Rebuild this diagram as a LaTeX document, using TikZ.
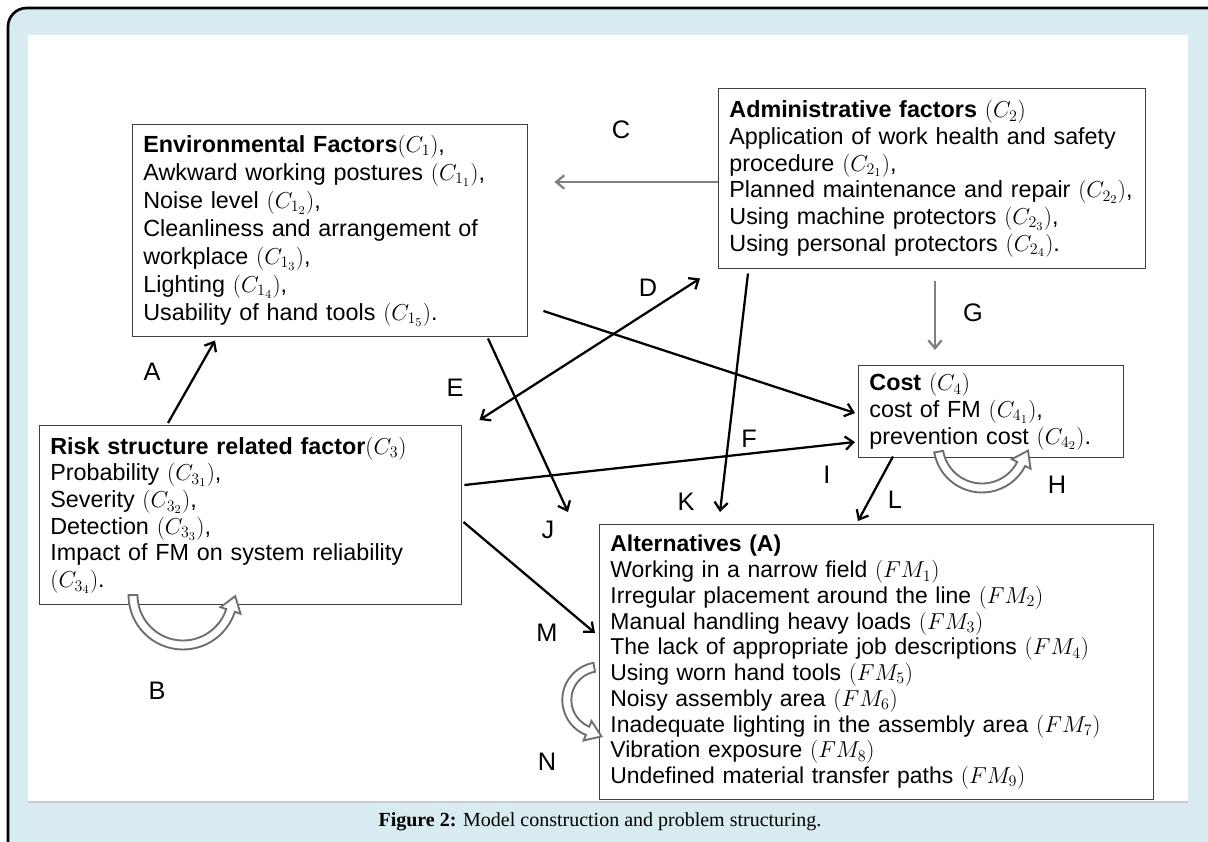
\documentclass[tikz,border=0pt]{standalone}
\usepackage{fontspec}
\setmainfont{Liberation Sans}
\newfontfamily\capfont{Liberation Serif}
\usetikzlibrary{arrows.meta,calc}
\definecolor{frameblue}{HTML}{D8EBF0}
\definecolor{boxline}{HTML}{404040}
\definecolor{arrgray}{HTML}{808080}
\definecolor{bendgray}{HTML}{6E6E6E}
\definecolor{sepgray}{HTML}{CCCCCC}
\newcommand\hollowbend[5]{%
  \pgfmathsetmacro\hbOut{#3+4.5}%
  \pgfmathsetmacro\hbIn{#3-4.5}%
  \pgfmathsetmacro\hbOutH{#3+10.5}%
  \pgfmathsetmacro\hbInH{#3-10.5}%
  \pgfmathsetmacro\hbTx{#3*cos(#5)+15*sin(#5)}%
  \pgfmathsetmacro\hbTy{#3*sin(#5)-15*cos(#5)}%
  \draw[bendarrow,shift={(#1,#2)}] (#4:\hbOut) arc[start angle=#4,end angle=#5,radius=\hbOut]
    -- (#5:\hbOutH) -- (\hbTx,\hbTy) -- (#5:\hbInH) -- (#5:\hbIn)
    arc[start angle=#5,end angle=#4,radius=\hbIn] -- cycle;}
\begin{document}
\begin{tikzpicture}[x=0.75pt,y=-0.75pt,
  box/.style={draw=boxline,line width=1.1pt,fill=white,anchor=north west,align=left,inner xsep=8pt,inner ysep=0pt},
  blk/.style={draw=black,line width=1.7pt,-{Straight Barb[length=6pt,width=10pt]}},
  dbl/.style={draw=black,line width=1.7pt,{Straight Barb[length=6pt,width=10pt]}-{Straight Barb[length=6pt,width=10pt]}},
  gry/.style={draw=arrgray,line width=1.7pt,-{Straight Barb[length=6pt,width=10pt]}},
  lbl/.style={font=\fontsize{19}{19}\selectfont,inner sep=0pt},
  bendarrow/.style={draw=bendgray,line width=1.4pt,fill=white,line join=miter}]
\useasboundingbox (0,0) rectangle (1208,842);
\fill[white] (0,0) rectangle (1208,842);
\draw[line width=2pt,fill=frameblue,rounded corners=14] (8,8) rectangle (1260,900);
\fill[white] (28,35) rectangle (1188,802);
\draw[sepgray,line width=1.2pt] (28,802) -- (1188,802);

\node[box,minimum width=296.25pt,minimum height=159pt,text width=280.25pt,font=\fontsize{17.5}{21}\selectfont] (env) at (132,124)
{\textbf{Environmental Factors}$(C_1)$,\\
Awkward working postures $(C_{1_1})$,\\
Noise level $(C_{1_2})$,\\
Cleanliness and arrangement of\\
workplace $(C_{1_3})$,\\
Lighting $(C_{1_4})$,\\
Usability of hand tools $\bigl(C_{1_5}\bigr)$.};

\node[box,minimum width=320.25pt,minimum height=135pt,text width=304.25pt,font=\fontsize{17.5}{20}\selectfont] (adm) at (718,88)
{\textbf{Administrative factors} $(C_2)$\\
Application of work health and safety\\
procedure $(C_{2_1})$,\\
Planned maintenance and repair $(C_{2_2})$,\\
Using machine protectors $(C_{2_3})$,\\
Using personal protectors $(C_{2_4})$.};

\node[box,minimum width=198.75pt,minimum height=69pt,text width=182.75pt,font=\fontsize{17.5}{20}\selectfont] (cost) at (858,365)
{\textbf{Cost} $(C_4)$\\
cost of FM $(C_{4_1})$,\\
prevention cost $(C_{4_2})$.};

\node[box,minimum width=316.5pt,minimum height=134.25pt,text width=300.5pt,font=\fontsize{17.5}{20}\selectfont] (risk) at (39,425)
{\textbf{Risk structure related factor}$(C_3)$\\
Probability $(C_{3_1})$,\\
Severity $(C_{3_2})$,\\
Detection $(C_{3_3})$,\\
Impact of FM on system reliability\\
$(C_{3_4})$.};

\node[box,minimum width=415.5pt,minimum height=206.25pt,text width=399.5pt,font=\fontsize{17.2}{19.3}\selectfont] (alt) at (599,524)
{\textbf{Alternatives (A)}\\
Working in a narrow field $(FM_1)$\\
Irregular placement around the line $(FM_2)$\\
Manual handling heavy loads $(FM_3)$\\
The lack of appropriate job descriptions $(FM_4)$\\
Using worn hand tools $(FM_5)$\\
Noisy assembly area $(FM_6)$\\
Inadequate lighting in the assembly area $(FM_7)$\\
Vibration exposure $(FM_8)$\\
Undefined material transfer paths $(FM_9)$};

% connectors
\draw[blk] ($(risk.north west)+(129,-2)$) -- ($(env.south west)+(83,3)$);
\draw[gry] ($(adm.north west)+(0,94)$) -- ($(env.north east)+(26,58)$);
\draw[dbl] ($(risk.north east)+(17,-5)$) -- ($(adm.south west)+(-18,9)$);
\draw[gry] ($(adm.south west)+(217,12)$) -- ($(cost.north west)+(77,-15)$);
\draw[blk] ($(env.north east)+(15,187)$) -- ($(cost.north west)+(-3,48)$);
\draw[blk] ($(env.south west)+(356,1)$) -- ($(alt.north west)+(-31,-12)$);
\draw[blk] ($(adm.south west)+(30,4)$) -- ($(alt.north west)+(121,-12)$);
\draw[blk] ($(risk.north east)+(2,60)$) -- ($(cost.north west)+(-3,77)$);
\draw[blk] ($(cost.south west)+(35,-2)$) -- ($(alt.north west)+(259,-3)$);
\draw[blk] ($(risk.north east)+(1,97)$) -- ($(alt.north west)+(-4,109)$);

% self loops
\hollowbend{183}{595}{50}{180}{18}
\hollowbend{982}{444}{44}{170}{27}
\hollowbend{600}{700}{33.2}{260}{112}

% labels
\node[lbl] (la) at (152,372) {A};
\node[lbl] (lb) at (157,691) {B};
\node[lbl] (lc) at (621,130) {C};
\node[lbl] (ld) at (648,288) {D};
\node[lbl] (le) at (455,388) {E};
\node[lbl] (lf) at (749,439) {F};
\node[lbl] (lg) at (973,313) {G};
\node[lbl] (lh) at (1057,485) {H};
\node[lbl] (li) at (827,475) {I};
\node[lbl] (lj) at (548,530) {J};
\node[lbl] (lk) at (686,502) {K};
\node[lbl] (ll) at (895,500) {L};
\node[lbl] (lm) at (547,633) {M};
\node[lbl] (ln) at (547,762) {N};

\node[font=\capfont\fontsize{15}{17}\selectfont,inner sep=0pt] (cap) at (600,822)
{\textbf{Figure 2:} Model construction and problem structuring.};
\end{tikzpicture}
\end{document}
